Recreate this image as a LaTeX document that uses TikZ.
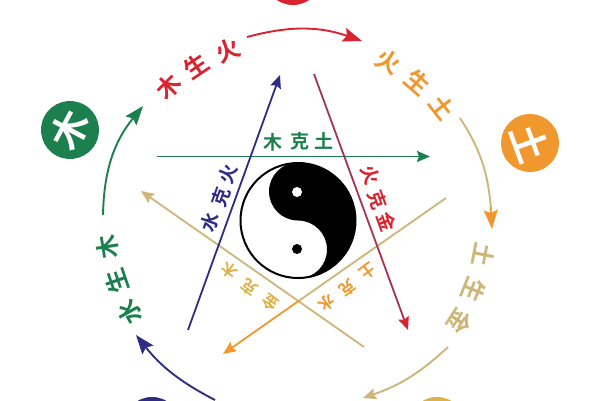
\documentclass[tikz,border=0pt]{standalone}
\usepackage{fontspec}
\setmainfont{Liberation Sans}
\newfontfamily\cjk{Noto Sans CJK SC}[BoldFont={* Bold}]
\usetikzlibrary{arrows.meta,calc}
\definecolor{cgreen}{HTML}{1B7F4E}
\definecolor{cred}{HTML}{D9232E}
\definecolor{corange}{HTML}{F0982E}
\definecolor{ctan}{HTML}{CDB678}
\definecolor{cgold}{HTML}{DDB24A}
\definecolor{cblue}{HTML}{2F2C85}
\definecolor{cdred}{HTML}{A63350}
\tikzset{
 x=1pt,y=-1pt,
 glyph/.style={inner sep=0pt,font=\cjk\bfseries\fontsize{24}{24}\selectfont},
 small/.style={inner sep=0pt,font=\cjk\bfseries\fontsize{19}{19}\selectfont},
 smaller/.style={inner sep=0pt,font=\cjk\bfseries\fontsize{16}{16}\selectfont},
 disc/.style={circle,minimum size=58pt,inner sep=0pt,text=white,font=\cjk\bfseries\fontsize{38}{38}\selectfont},
 tip/.style={-{Stealth[length=13pt,width=11pt,inset=2pt]}},
 tipb/.style={-{Stealth[length=19pt,width=14pt,inset=3pt]}},
 ring/.style={line width=1.9pt},
 star/.style={line width=1.8pt},
}
\begin{document}
\begin{tikzpicture}
\useasboundingbox (0,0) rectangle (600,400);
\clip (0,0) rectangle (600,400);
\fill[white] (0,0) rectangle (600,400);
% discs
\node[disc,fill=cred] (fire) at (293,-24) {};
\node[disc,fill=cgreen,rotate=62] (wood) at (70,130) {木};
\node[disc,fill=corange,rotate=-70] (earth) at (530,143) {土};
\node[disc,fill=cblue] (water) at (152,426) {};
\node[disc,fill=cgold] (metal) at (437,426) {};
% ring arcs
\coordinate (a1) at (103,215); \coordinate (a2) at (143,106);
\coordinate (b1) at (247,37);  \coordinate (b2) at (362,41);
\coordinate (c1) at (460,118); \coordinate (c2) at (492,229);
\coordinate (d1) at (448,347); \coordinate (d2) at (363,398);
\coordinate (e1) at (215,400); \coordinate (e2) at (136,335);
\draw[ring,cgreen,tipb] (a1) to[bend left=19] (a2);
\draw[ring,cred,tipb] (b1) to[bend left=17] (b2);
\draw[ring,ctan] (c1) to[bend left=14] ($(c2)+(-1,-20)$);
\draw[ring,corange,tipb] ($(c2)+(-1.5,-22)$) -- (c2);
\draw[ring,ctan,tip] (d1) to[bend left=12] (d2);
\draw[ring,cblue,tipb] (e1) to[bend left=12] (e2);
% star lines
\coordinate (g1) at (157,156.5); \coordinate (g2) at (430,156.5);
\coordinate (h1) at (188,330);   \coordinate (h2) at (280,75);
\coordinate (r1) at (314,74);    \coordinate (r2) at (408,330);
\coordinate (t1) at (364,347);   \coordinate (t2) at (141,191);
\coordinate (o1) at (446,198);   \coordinate (om) at (300,300); \coordinate (o2) at (223,354);
\draw[star,ctan,tip] (t1) -- (t2);
\draw[star,ctan] (o1) -- (om);
\draw[star,corange,tip] (om) -- (o2);
\draw[star,cgreen,tip] (g1) -- (g2);
\draw[star,cblue,tip] (h1) -- (h2);
\draw[star,cdred,-{Stealth[length=13pt,width=11pt,inset=2pt,color=cred]}] (r1) -- (r2);
% yin yang
\coordinate (yy) at (298,220.5);
\fill[white] (yy) circle (58);
\fill[black] (298,162.5) arc[start angle=-90,end angle=90,radius=58]
  arc[start angle=90,end angle=-90,radius=29]
  arc[start angle=90,end angle=270,radius=29];
\draw[black,line width=2pt] (yy) circle (57.5);
\fill[white] (297,192) circle (5);
\fill[black] (297,249) circle (5);
% outer labels
\foreach \t/\x/\y/\r/\c in {木/169/87/45/cred,生/196/66/34/cred,火/228/51/23/cred,
  火/388/62/-30/corange,生/418/82/-41/corange,土/442/107/-52/corange,
  土/484/255/-101/ctan,生/474/290/-112/ctan,金/460/322/-123/ctan,
  木/108/247/99/cgreen,生/117/281/109/cgreen,水/130/312/119/cgreen}
  \node[glyph,text=\c,rotate=\r] at (\x,\y) {\t};
% inner labels
\foreach \t/\x/\y/\r/\c in {木/273/142/0/cgreen,克/300/141/0/cgreen,土/324/141/0/cgreen,
  水/210/222/70/cblue,克/221/197/70/cblue,火/228/174/70/cblue,
  火/370/175/-70/cred,克/378/200/-70/cred,金/387/222/-70/cred}
  \node[small,text=\c,rotate=\r] at (\x,\y) {\t};
\foreach \t/\x/\y/\r/\c in {木/229/271/143/cgold,克/249/288/143/cgold,金/270/303/143/cgold,
  土/368/271/-143/corange,克/348/288/-143/corange,水/327/303/-143/corange}
  \node[smaller,text=\c,rotate=\r] at (\x,\y) {\t};
\end{tikzpicture}
\end{document}
